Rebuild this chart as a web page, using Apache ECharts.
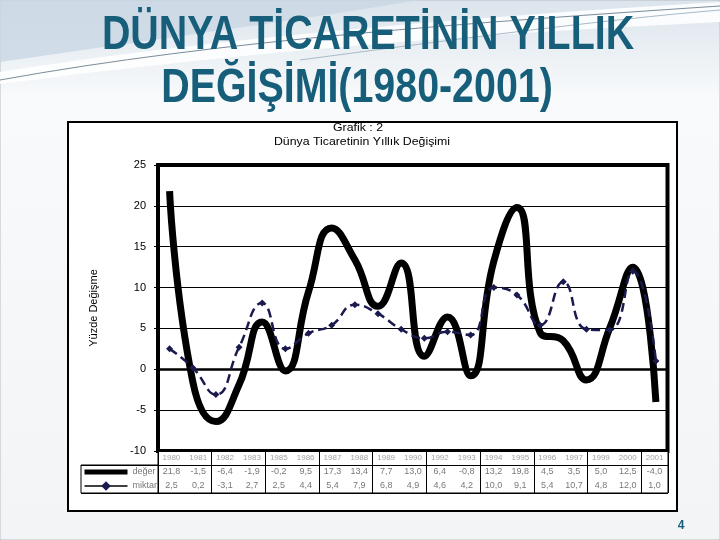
<!DOCTYPE html>
<html><head><meta charset="utf-8">
<script src="https://cdn.jsdelivr.net/npm/echarts@6/dist/echarts.min.js"></script>
<style>html,body{margin:0;padding:0;background:#fff}#c{width:720px;height:540px}</style>
</head><body><div id="c"></div>
<script>
// ---- data ----
const years = ['1980','1981','1982','1983','1984','1985','1986','1987','1988','1989','1990','1991','1992','1993','1994','1995','1996','1997','1998','1999','2000','2001'];
const deger = [21.8, -1.5, -6.4, -1.9, 5.8, -0.2, 9.5, 17.3, 13.4, 7.7, 13.0, 1.6, 6.4, -0.8, 13.2, 19.8, 4.5, 3.5, -1.3, 5.0, 12.5, -4.0];
const miktar = [2.5, 0.2, -3.1, 2.7, 8.1, 2.5, 4.4, 5.4, 7.9, 6.8, 4.9, 3.8, 4.6, 4.2, 10.0, 9.1, 5.4, 10.7, 4.9, 4.8, 12.0, 1.0];
const tableYears = ['1980','1981','1982','1983','1985','1986','1987','1988','1989','1990','1992','1993','1994','1995','1996','1997','1999','2000','2001'];
const tableRows = ['miktar','değer','yıl'];
const seriesNames = ['değer','miktar'];
const yMin = -10, yMax = 25, yStep = 5;

const fmt = v => v.toFixed(1).replace('.', ',');
const tableData = [];
tableYears.forEach(y => {
  const i = years.indexOf(y);
  tableData.push({value:[y,'yıl',y], label:{color:'#8a8a8a', fontSize:8}});
  tableData.push({value:[y,'değer',fmt(deger[i])]});
  tableData.push({value:[y,'miktar',fmt(miktar[i])]});
});

// decorative swoosh outline (background only)
function bez(p0, p1, p2, p3, n) {
  const pts = [];
  for (let k = 0; k <= n; k++) {
    const t = k / n, u = 1 - t;
    pts.push([u*u*u*p0[0] + 3*u*u*t*p1[0] + 3*u*t*t*p2[0] + t*t*t*p3[0],
              u*u*u*p0[1] + 3*u*u*t*p1[1] + 3*u*t*t*p2[1] + t*t*t*p3[1]]);
  }
  return pts;
}
const bandTop = bez([0,72],[200,40],[450,18],[720,2],24);
const bandBot = bez([720,22],[450,35],[220,55],[0,84],24);
const cornerPts = [[0,0],[420,0]].concat(bez([420,0],[300,20],[150,40],[0,62],20));

const teal = '#175e7a';
const titleFont = 'bold 48px "Liberation Sans", Arial, sans-serif';
const smallFont = '11px "Liberation Sans", Arial, sans-serif';
const chart = echarts.init(document.getElementById('c'), null, {renderer:'canvas'});
const option = {
  animation: false,
  backgroundColor: '#fff',
  textStyle: {fontFamily: 'Liberation Sans, Arial, sans-serif'},
  graphic: [
    {type:'rect', z:-20, shape:{x:0,y:0,width:720,height:540},
     style:{fill:{type:'linear',x:0,y:0,x2:0,y2:1,colorStops:[{offset:0,color:'#dbe4ec'},{offset:0.18,color:'#f8fafb'},{offset:1,color:'#f2f4f6'}]}, stroke:'#b8bec4', lineWidth:1}},
    {type:'polygon', z:-19, shape:{points:cornerPts}, style:{fill:'#c9d7e3', opacity:0.8}},
    {type:'polygon', z:-18, shape:{points:bandTop.concat(bandBot)}, style:{fill:'#ffffff', opacity:0.85}},
    {type:'bezierCurve', z:-17, shape:{x1:0,y1:80,cpx1:220,cpy1:40,cpx2:480,cpy2:22,x2:720,y2:6}, style:{stroke:'#7b8c9a', lineWidth:1, fill:null}},
    {type:'bezierCurve', z:-17, shape:{x1:300,y1:60,cpx1:450,cpy1:40,cpx2:600,cpy2:20,x2:720,y2:10}, style:{stroke:'#a9bac8', lineWidth:1, fill:null}},
    {type:'rect', z:-10, shape:{x:68,y:122,width:609,height:389}, style:{fill:'#fff', stroke:'#000', lineWidth:2}},
    {type:'text', z:10, x:368, y:36, scaleX:0.82, style:{text:'DÜNYA TİCARETİNİN YILLIK', x:0, y:0, fill:teal, font:titleFont, align:'center', verticalAlign:'middle'}},
    {type:'text', z:10, x:357, y:89, scaleX:0.82, style:{text:'DEĞİŞİMİ(1980-2001)', x:0, y:0, fill:teal, font:titleFont, align:'center', verticalAlign:'middle'}},
    {type:'text', z:10, x:358, y:128, scaleX:1.12, style:{text:'Grafik : 2', x:0, y:0, fill:'#000', font:smallFont, align:'center', verticalAlign:'middle'}},
    {type:'text', z:10, x:362, y:142, scaleX:1.12, style:{text:'Dünya Ticaretinin Yıllık Değişimi', x:0, y:0, fill:'#000', font:smallFont, align:'center', verticalAlign:'middle'}},
    {type:'text', z:10, x:681, y:526, style:{text:'4', fill:teal, font:'bold 12px "Liberation Sans", Arial, sans-serif', align:'center', verticalAlign:'middle'}}
  ],
  legend: {
    data: [
      {name:'değer', lineStyle:{width:5}, itemStyle:{opacity:0}},
      {name:'miktar', lineStyle:{width:1.5, type:'solid', color:'#000'}}
    ],
    orient:'vertical', left:82, top:466, itemWidth:43, itemHeight:12, itemGap:2, padding:0,
    textStyle:{fontSize:9, color:'#777', lineHeight:12}, selectedMode:false
  },
  grid: [
    {left:158, right:52.5, top:165, bottom:89, show:true, borderColor:'#000', borderWidth:4, backgroundColor:'transparent'},
    {left:158, right:52, top:451, height:42, show:true, borderColor:'#000', borderWidth:1, backgroundColor:'#fff'},
    {left:81, width:77, top:465, height:28, show:true, borderColor:'#000', borderWidth:1, backgroundColor:'#fff'}
  ],
  xAxis: [
    {type:'category', gridIndex:0, data:years, boundaryGap:true,
     axisLine:{onZero:true, lineStyle:{color:'#000', width:2.5}}, axisTick:{show:false}, axisLabel:{show:false}, splitLine:{show:false}},
    {type:'category', gridIndex:1, data:tableYears, boundaryGap:true,
     axisLine:{show:false}, axisTick:{show:false}, axisLabel:{show:false}, splitLine:{show:true, lineStyle:{color:'#000', width:1}}},
    {type:'value', gridIndex:2, show:false}
  ],
  yAxis: [
    {type:'value', gridIndex:0, min:yMin, max:yMax, interval:yStep,
     name:'Yüzde Değişme', nameLocation:'middle', nameGap:59, nameTextStyle:{fontSize:11, color:'#000'},
     axisLine:{show:false}, axisTick:{show:true, length:4, lineStyle:{color:'#000'}},
     axisLabel:{fontSize:11, color:'#000', margin:12},
     splitLine:{show:true, lineStyle:{color:'#000', width:1.2}}},
    {type:'category', gridIndex:1, data:tableRows,
     axisLine:{show:false}, axisTick:{show:false}, axisLabel:{show:false}, splitLine:{show:true, lineStyle:{color:'#000', width:1}}},
    {type:'category', gridIndex:2, data:['miktar','değer'],
     axisLine:{show:false}, axisTick:{show:false}, axisLabel:{show:false}, splitLine:{show:true, lineStyle:{color:'#000', width:1}}}
  ],
  series: [
    {name:seriesNames[0], type:'line', xAxisIndex:0, yAxisIndex:0, data:deger, smooth:0.5, symbol:'none',
     lineStyle:{color:'#000', width:7}, itemStyle:{color:'#000'}, z:3},
    {name:seriesNames[1], type:'line', xAxisIndex:0, yAxisIndex:0, data:miktar, smooth:0.5, symbol:'diamond', symbolSize:7,
     lineStyle:{color:'#1a1a4e', width:2.5, type:[9,5]}, itemStyle:{color:'#1a1a4e'}, z:4},
    {name:'tablo', type:'scatter', xAxisIndex:1, yAxisIndex:1, data:tableData, symbolSize:1, silent:true,
     itemStyle:{color:'rgba(0,0,0,0)'},
     label:{show:true, position:'inside', formatter:p => p.value[2], fontSize:9, color:'#555'}, z:5}
  ]
};
chart.setOption(option);
</script>
</body></html>
